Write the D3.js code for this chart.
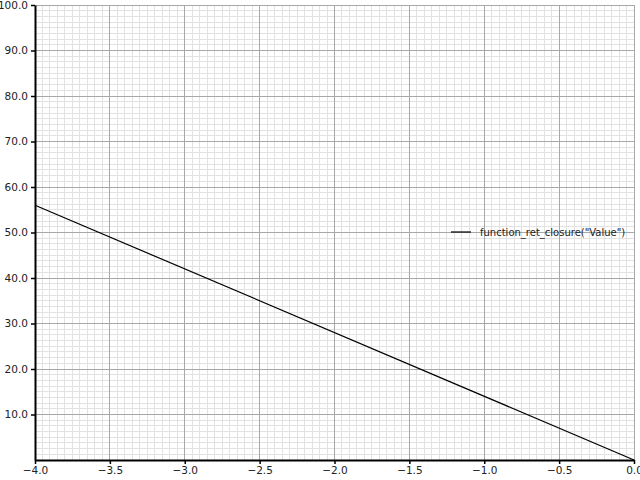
<!DOCTYPE html>
<html><head><meta charset="utf-8">
<script src="https://cdn.jsdelivr.net/npm/d3@7"></script>
<style>body{margin:0;background:#fff}text{font-family:"DejaVu Sans",sans-serif}</style>
</head><body><svg id="c" width="640" height="480"></svg>
<script>
const xDomain=[-4,0];
const yDomain=[0,100];
const lineX=[-4,0];
const lineY=[56,0];
const seriesName='function_ret_closure("Value")';
const xTicks=[-4,-3.5,-3,-2.5,-2,-1.5,-1,-0.5,0];
const yTicks=[10,20,30,40,50,60,70,80,90,100];

const svg=d3.select("#c");
const L=35,R=634,T=5,B=460;
const x=d3.scaleLinear().domain(xDomain).range([L,R]);
const y=d3.scaleLinear().domain(yDomain).range([B,T]);
const g=svg.append("g");
const minorX=d3.range(0,81).map(i=>-4+i*0.05);
const minorY=d3.range(0,81).map(i=>i*1.25);
g.selectAll(".mx").data(minorX).join("line").attr("x1",d=>x(d)).attr("x2",d=>x(d)).attr("y1",T).attr("y2",B).attr("stroke","#e2e2e2").attr("stroke-width",1).attr("shape-rendering","crispEdges");
g.selectAll(".my").data(minorY).join("line").attr("y1",d=>y(d)).attr("y2",d=>y(d)).attr("x1",L).attr("x2",R).attr("stroke","#e2e2e2").attr("stroke-width",1).attr("shape-rendering","crispEdges");
g.selectAll(".Mx").data(xTicks).join("line").attr("x1",d=>x(d)).attr("x2",d=>x(d)).attr("y1",T).attr("y2",B).attr("stroke","#a8a8a8").attr("shape-rendering","crispEdges");
g.selectAll(".My").data(yTicks).join("line").attr("y1",d=>y(d)).attr("y2",d=>y(d)).attr("x1",L).attr("x2",R).attr("stroke","#a8a8a8").attr("shape-rendering","crispEdges");
const xa=svg.append("g").attr("transform",`translate(0,${B})`).call(d3.axisBottom(x).tickValues(xTicks).tickFormat(d3.format(".1f")).tickSize(4).tickSizeOuter(0));
const ya=svg.append("g").attr("transform",`translate(${L},0)`).call(d3.axisLeft(y).tickValues(yTicks).tickFormat(d3.format(".1f")).tickSize(4).tickSizeOuter(0));
[xa,ya].forEach(a=>{a.selectAll("path,line").attr("stroke","#000").attr("stroke-width",1.5);a.selectAll("text").attr("font-size",10.5).attr("font-family","DejaVu Sans").attr("fill","#222");});
xa.select(".domain").attr("stroke-width",2);ya.select(".domain").attr("stroke-width",2);
svg.append("path").datum(lineX.map((v,i)=>[v,lineY[i]])).attr("d",d3.line().x(d=>x(d[0])).y(d=>y(d[1]))).attr("stroke","#000").attr("stroke-width",1.2).attr("fill","none");
svg.append("line").attr("x1",451).attr("x2",471).attr("y1",232).attr("y2",232).attr("stroke","#000").attr("stroke-width",1.2);
svg.append("text").attr("x",480).attr("y",236).attr("font-size",10).attr("fill","#222").text(seriesName);
</script></body></html>
